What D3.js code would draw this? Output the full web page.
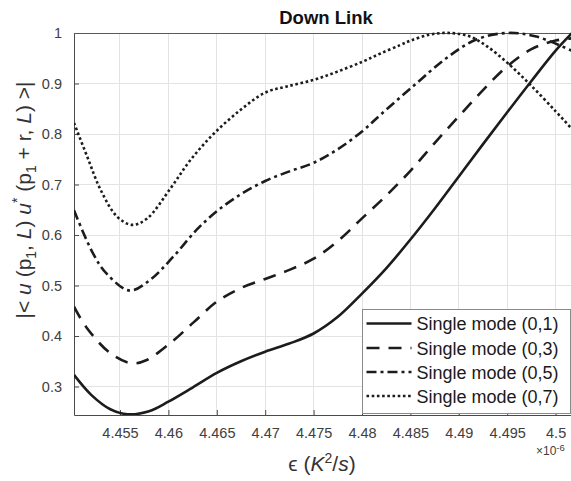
<!DOCTYPE html>
<html>
<head>
<meta charset="utf-8">
<script src="https://cdn.jsdelivr.net/npm/d3@7"></script>
<style>
  html, body { margin: 0; padding: 0; background: #fff; }
  svg { display: block; font-family: "Liberation Sans", Arial, Helvetica, sans-serif; }
</style>
</head>
<body>
<svg id="chart" width="571" height="481"></svg>
<script>
// epsilon values in units of 1e-6 K^2/s, correlation magnitude per mode
const epsMode1 = [4.45025, 4.452, 4.454, 4.4558, 4.458, 4.46, 4.4625, 4.465, 4.4675, 4.47, 4.4725, 4.475, 4.4775, 4.48, 4.4825, 4.485, 4.4875, 4.49, 4.4925, 4.495, 4.4975, 4.5, 4.5016, 4.502];
const corrMode1 = [0.323, 0.284, 0.255, 0.245, 0.251, 0.270, 0.298, 0.327, 0.350, 0.369, 0.385, 0.405, 0.438, 0.484, 0.534, 0.591, 0.652, 0.716, 0.780, 0.843, 0.905, 0.965, 0.998, 1.006];

const epsMode3 = [4.45025, 4.4515, 4.454, 4.4562, 4.4577, 4.4602, 4.4626, 4.465, 4.4675, 4.47, 4.4725, 4.475, 4.4775, 4.48, 4.4825, 4.485, 4.4875, 4.49, 4.4925, 4.495, 4.4975, 4.5, 4.502];
const corrMode3 = [0.458, 0.418, 0.366, 0.346, 0.352, 0.386, 0.427, 0.468, 0.495, 0.513, 0.531, 0.553, 0.588, 0.633, 0.678, 0.727, 0.782, 0.835, 0.887, 0.934, 0.968, 0.985, 0.990];

const epsMode5 = [4.45025, 4.4522, 4.4536, 4.456, 4.4581, 4.4605, 4.4629, 4.465, 4.4675, 4.47, 4.4725, 4.475, 4.4775, 4.48, 4.4819, 4.4853, 4.4887, 4.4918, 4.495, 4.498, 4.502];
const corrMode5 = [0.649, 0.564, 0.524, 0.490, 0.511, 0.557, 0.610, 0.647, 0.681, 0.707, 0.726, 0.743, 0.770, 0.805, 0.838, 0.895, 0.950, 0.987, 1.000, 0.993, 0.962];

const epsMode7 = [4.45025, 4.45162, 4.45301, 4.45472, 4.45627, 4.45782, 4.46024, 4.4623, 4.46471, 4.46747, 4.47, 4.47222, 4.47497, 4.47739, 4.48003, 4.48186, 4.48393, 4.48503, 4.48702, 4.48909, 4.49116, 4.49288, 4.49501, 4.49736, 4.5, 4.50159, 4.502];
const corrMode7 = [0.822, 0.755, 0.689, 0.636, 0.620, 0.633, 0.693, 0.749, 0.801, 0.848, 0.882, 0.894, 0.907, 0.923, 0.943, 0.959, 0.976, 0.985, 0.997, 1.000, 0.993, 0.974, 0.941, 0.898, 0.845, 0.812, 0.803];

const seriesNames = ["Single mode (0,1)", "Single mode (0,3)", "Single mode (0,5)", "Single mode (0,7)"];
const xTicks = [4.455, 4.46, 4.465, 4.47, 4.475, 4.48, 4.485, 4.49, 4.495, 4.5];
const yTicks = [0.3, 0.4, 0.5, 0.6, 0.7, 0.8, 0.9, 1];

const series = [
  { name: seriesNames[0], x: epsMode1, y: corrMode1, dash: null },
  { name: seriesNames[1], x: epsMode3, y: corrMode3, dash: "13,9" },
  { name: seriesNames[2], x: epsMode5, y: corrMode5, dash: "10,4,3,4" },
  { name: seriesNames[3], x: epsMode7, y: corrMode7, dash: "2.6,2.6" }
];

const plot = { left: 74, top: 33, right: 575, bottom: 415 };
const svg = d3.select("#chart");

const x = d3.scaleLinear().domain([4.45025, 4.502]).range([plot.left, plot.right]);
const y = d3.scaleLinear().domain([0.2436, 1]).range([plot.bottom, plot.top]);

const axisColor = "#4a4a4a";
const tickTextColor = "#404040";
const lineColor = "#1c1c1c";

// grid
const grid = svg.append("g");
grid.selectAll("line.vx").data(xTicks).join("line")
  .attr("x1", d => x(d)).attr("x2", d => x(d))
  .attr("y1", plot.top).attr("y2", plot.bottom)
  .attr("stroke", "#e3e3e3").attr("stroke-width", 1).attr("shape-rendering", "crispEdges");
grid.selectAll("line.hy").data(yTicks).join("line")
  .attr("x1", plot.left).attr("x2", plot.right)
  .attr("y1", d => y(d)).attr("y2", d => y(d))
  .attr("stroke", "#e3e3e3").attr("stroke-width", 1).attr("shape-rendering", "crispEdges");

// axes (ticks pointing inward)
const xAxis = d3.axisBottom(x).tickValues(xTicks).tickSizeInner(-5).tickSizeOuter(0)
  .tickPadding(13).tickFormat(d => String(d));
const gx = svg.append("g").attr("transform", `translate(0,${plot.bottom})`).call(xAxis);
gx.select(".domain").attr("stroke", axisColor);
gx.selectAll(".tick line").attr("stroke", axisColor);
gx.selectAll(".tick text").attr("fill", tickTextColor).attr("font-size", 14.5)
  .attr("font-family", "Liberation Sans, Arial, sans-serif");

const yAxis = d3.axisLeft(y).tickValues(yTicks).tickSizeInner(-5).tickSizeOuter(0)
  .tickPadding(12).tickFormat(d => String(d));
const gy = svg.append("g").attr("transform", `translate(${plot.left},0)`).call(yAxis);
gy.select(".domain").attr("stroke", axisColor);
gy.selectAll(".tick line").attr("stroke", axisColor);
gy.selectAll(".tick text").attr("fill", tickTextColor).attr("font-size", 14.5)
  .attr("font-family", "Liberation Sans, Arial, sans-serif");

// top box edge
svg.append("line")
  .attr("x1", plot.left).attr("x2", plot.right)
  .attr("y1", plot.top + 0.5).attr("y2", plot.top + 0.5)
  .attr("stroke", "#5a5a5a").attr("stroke-width", 1);

// curves
svg.append("clipPath").attr("id", "plotClip").append("rect")
  .attr("x", plot.left).attr("y", plot.top - 2)
  .attr("width", plot.right - plot.left).attr("height", plot.bottom - plot.top + 2);

const line = d3.line().curve(d3.curveCatmullRom.alpha(0.5));
const curves = svg.append("g").attr("clip-path", "url(#plotClip)");
series.forEach(s => {
  const pts = s.x.map((v, i) => [x(v), y(s.y[i])]);
  curves.append("path")
    .attr("d", line(pts))
    .attr("fill", "none")
    .attr("stroke", lineColor)
    .attr("stroke-width", 2.6)
    .attr("stroke-dasharray", s.dash)
    .attr("stroke-linecap", "butt");
});

// title
svg.append("text")
  .attr("x", 326).attr("y", 23.5)
  .attr("text-anchor", "middle")
  .attr("font-size", 18.5).attr("font-weight", "bold").attr("fill", "#111")
  .text("Down Link");

// x-axis label: ϵ (K²/s)
const xl = svg.append("text")
  .attr("x", 322).attr("y", 471)
  .attr("text-anchor", "middle")
  .attr("font-size", 21).attr("fill", "#333");
xl.append("tspan").text("\u03F5 (");
xl.append("tspan").attr("font-style", "italic").text("K");
xl.append("tspan").attr("dy", -8).attr("font-size", 14).text("2");
xl.append("tspan").attr("dy", 8).text("/");
xl.append("tspan").attr("font-style", "italic").text("s");
xl.append("tspan").text(")");

// exponent marker
const ex = svg.append("text")
  .attr("x", 536).attr("y", 455)
  .attr("font-size", 12).attr("fill", tickTextColor);
ex.append("tspan").text("\u00D710");
ex.append("tspan").attr("dy", -4.5).attr("font-size", 9.5).text("-6");

// y-axis label: |< u (p₁, L) u*(p₁ + r, L) >|
const yl = svg.append("text")
  .attr("transform", "translate(31,200) rotate(-90)")
  .attr("text-anchor", "middle")
  .attr("font-size", 21).attr("fill", "#333");
yl.append("tspan").text("|< ");
yl.append("tspan").attr("font-style", "italic").text("u");
yl.append("tspan").text(" (p");
yl.append("tspan").attr("dy", 5).attr("font-size", 14).text("1");
yl.append("tspan").attr("dy", -5).text(", ");
yl.append("tspan").attr("font-style", "italic").text("L");
yl.append("tspan").text(") ");
yl.append("tspan").attr("font-style", "italic").text("u");
yl.append("tspan").attr("dy", -9).attr("font-size", 14).text("*");
yl.append("tspan").attr("dy", 9).text(" (p");
yl.append("tspan").attr("dy", 5).attr("font-size", 14).text("1");
yl.append("tspan").attr("dy", -5).text(" + r, ");
yl.append("tspan").attr("font-style", "italic").text("L");
yl.append("tspan").text(") >|");

// legend
const lg = { x: 362, y: 309, w: 208, h: 104 };
svg.append("rect")
  .attr("x", lg.x + 0.5).attr("y", lg.y + 0.5)
  .attr("width", lg.w).attr("height", lg.h)
  .attr("fill", "#fff").attr("stroke", "#8a8a8a").attr("stroke-width", 1);
const rowY = [323.5, 348, 372, 396];
series.forEach((s, i) => {
  svg.append("line")
    .attr("x1", 366.5).attr("x2", 411.5)
    .attr("y1", rowY[i]).attr("y2", rowY[i])
    .attr("stroke", lineColor).attr("stroke-width", 2.6)
    .attr("stroke-dasharray", s.dash);
  svg.append("text")
    .attr("x", 416.5).attr("y", rowY[i] + 6.5)
    .attr("font-size", 18).attr("fill", "#1a1a1a")
    .text(s.name);
});
</script>
</body>
</html>
